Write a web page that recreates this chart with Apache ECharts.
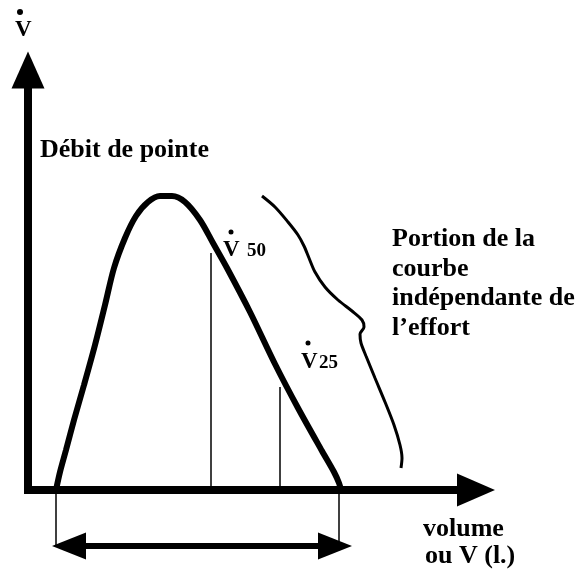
<!DOCTYPE html>
<html><head><meta charset="utf-8">
<script src="https://cdn.jsdelivr.net/npm/echarts/dist/echarts.min.js"></script>
<style>html,body{margin:0;padding:0;background:#fff}#c{width:580px;height:574px}</style>
</head><body><div id="c"></div>
<script>
// ---- data (arbitrary volume / flow units) ----
const mainCurve = [
  [7, 0], [8, 4.5], [9.5, 10], [11.5, 17.5], [14, 26.25], [16.75, 36.25], [19.25, 46.25],
  [21.5, 55.5], [24.25, 63], [27, 68.5], [30, 72], [33, 73.5], [36, 73.5], [39.25, 72],
  [43, 67.5], [46.25, 61.75], [49.75, 55.5], [55.5, 44.5], [61.75, 31.5], [67.5, 20.5],
  [73.5, 9.75], [76.5, 4.5], [77.75, 1.75], [78.25, 0]
];
const effortCurve = [
  [58.5, 73.5], [61.75, 70.75], [65, 67], [67.5, 63.75], [69, 61], [70.25, 58], [71.75, 54.5],
  [74.25, 50.75], [77.5, 47.5], [81, 44.75], [83.5, 42.5], [84, 40.75], [83, 39], [83.25, 36.75],
  [84.5, 33.5], [86.75, 28], [89.25, 22], [91.5, 16.25], [93, 11.25], [93.5, 8], [93.25, 5.5]
];
const v50Point = [45.75, 59.25];
const v25Point = [63, 25.75];
const fvcBounds = [7, 77.75];      // start / end of the expired volume
const bracketLevel = -14;          // level of the double arrow under the axis
const arrowCenters = [10.25, 76.75];
const labelsRight = ['Portion de la', 'courbe', 'indépendante de', 'l\u2019effort'];
const xAxisName = ['volume', 'ou V (l.)'];
const yAxisName = 'Débit de pointe';

const FONT = '"Liberation Serif", "Times New Roman", serif';
function txt(text, x, baseline, size) {
  return { type: 'text', x: x, y: baseline - size * 0.34, silent: true,
    style: { text: text, font: 'bold ' + size + 'px ' + FONT, fill: '#000', align: 'left', verticalAlign: 'middle' } };
}
function dot(cx, cy, r) {
  return { type: 'circle', silent: true, shape: { cx: cx, cy: cy, r: r }, style: { fill: '#000' } };
}
function thin(x, y0, y1) {
  return { type: 'line', data: [[x, y0], [x, y1]], showSymbol: false, symbol: 'none', clip: false,
    lineStyle: { color: '#000', width: 1.5 }, silent: true };
}

const chart = echarts.init(document.getElementById('c'), null, { renderer: 'canvas' });
chart.setOption({
  backgroundColor: '#fff',
  animation: false,
  grid: { left: 24, right: 104, top: 70, bottom: 80, outerBoundsMode: 'none', containLabel: false },
  xAxis: {
    type: 'value', min: -1, max: 112,
    axisLine: { show: true, onZero: true, symbol: ['none', 'triangle'], symbolSize: [33, 38],
      lineStyle: { color: '#000', width: 8, cap: 'butt' } },
    axisTick: { show: false }, axisLabel: { show: false }, splitLine: { show: false }
  },
  yAxis: {
    type: 'value', min: -1, max: 105,
    axisLine: { show: true, onZero: true, symbol: ['none', 'triangle'], symbolSize: [33, 37],
      lineStyle: { color: '#000', width: 8, cap: 'butt' } },
    axisTick: { show: false }, axisLabel: { show: false }, splitLine: { show: false }
  },
  series: [
    { type: 'line', data: mainCurve, smooth: 0.3, symbol: 'none', showSymbol: false, clip: false,
      lineStyle: { color: '#000', width: 6 }, silent: true },
    { type: 'line', data: effortCurve, smooth: 0.3, symbol: 'none', showSymbol: false, clip: false,
      lineStyle: { color: '#000', width: 3 }, silent: true },
    thin(v50Point[0], 0, v50Point[1]),
    thin(v25Point[0], 0, v25Point[1]),
    thin(fvcBounds[0], 0, bracketLevel + 0.25),
    thin(fvcBounds[1], 0, bracketLevel + 1),
    { type: 'line', clip: false, silent: true, symbol: 'triangle', symbolSize: [27, 34], showSymbol: true,
      data: [ { value: [arrowCenters[0], bracketLevel], symbolRotate: 90 },
              { value: [arrowCenters[1], bracketLevel], symbolRotate: -90 } ],
      itemStyle: { color: '#000' }, lineStyle: { color: '#000', width: 6 } }
  ],
  graphic: [
    txt('V', 15, 38, 23), dot(20, 12, 3),
    txt(yAxisName, 40, 159, 26),
    txt('V', 223, 258, 23), txt('50', 247, 258, 19), dot(231, 232, 2.5),
    txt('V', 301, 370, 23), txt('25', 319, 370, 19), dot(308, 343, 2.5),
    txt(labelsRight[0], 392, 248, 26),
    txt(labelsRight[1], 392, 278, 26),
    txt(labelsRight[2], 392, 307, 26),
    txt(labelsRight[3], 392, 337, 26),
    txt(xAxisName[0], 423, 538, 26),
    txt(xAxisName[1], 425, 565, 26)
  ]
});
</script></body></html>
